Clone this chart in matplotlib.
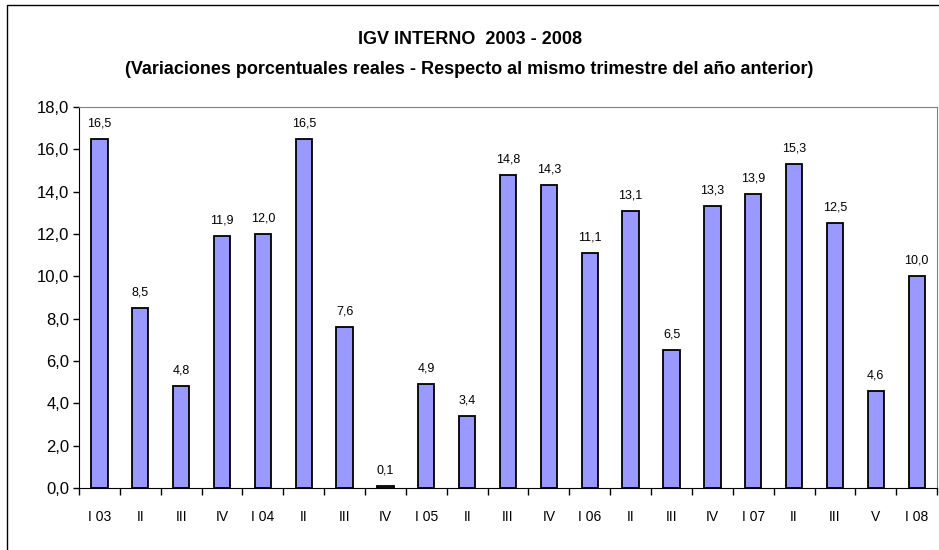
import matplotlib.pyplot as plt
from matplotlib.patches import Rectangle
import numpy as np

plt.rcParams["font.family"] = ["Liberation Sans", "DejaVu Sans"]

# datos: IGV interno, variación % real trimestral
TRIMESTRES = ["I 03", "II", "III", "IV", "I 04", "II", "III", "IV", "I 05", "II", "III",
              "IV", "I 06", "II", "III", "IV", "I 07", "II", "III", "V", "I 08"]
VARIACION = [16.5, 8.5, 4.8, 11.9, 12.0, 16.5, 7.6, 0.1, 4.9, 3.4, 14.8,
             14.3, 11.1, 13.1, 6.5, 13.3, 13.9, 15.3, 12.5, 4.6, 10.0]
Y_TICKS = [0, 2, 4, 6, 8, 10, 12, 14, 16, 18]

fig = plt.figure(figsize=(9.39, 5.5), dpi=100)
ax = fig.add_axes([0.0841, 0.1127, 0.9139, 0.6928])

x = np.arange(len(TRIMESTRES))
ax.bar(x, VARIACION, width=0.4, color="#9999FF", edgecolor="black", linewidth=1.3, zorder=2)

for xi, v in zip(x, VARIACION):
    ax.text(xi, v + 0.45, f"{v:.1f}".replace(".", ","), ha="center", va="bottom", fontsize=9)

ax.set_xlim(-0.5, len(TRIMESTRES) - 0.5)
ax.set_ylim(0, 18)
ax.set_yticks(Y_TICKS)
ax.set_yticklabels([f"{t:.1f}".replace(".", ",") for t in Y_TICKS], fontsize=12)
ax.tick_params(axis="y", direction="out", length=4, width=1, pad=3)

# ticks entre categorías, etiquetas centradas
ax.set_xticks(np.arange(len(TRIMESTRES) + 1) - 0.5)
ax.set_xticklabels([])
ax.tick_params(axis="x", direction="out", length=5, width=1)
ax.set_xticks(x, minor=True)
ax.set_xticklabels(TRIMESTRES, minor=True, fontsize=10)
ax.tick_params(axis="x", which="minor", length=0, pad=16)

for side in ["top", "right"]:
    ax.spines[side].set_color("#808080")
for side in ["left", "bottom"]:
    ax.spines[side].set_color("black")

fig.text(0.5, 1 - 40 / 550, "IGV INTERNO  2003 - 2008", ha="center", va="center",
         fontsize=13, fontweight="bold")
fig.text(0.5, 1 - 70 / 550,
         "(Variaciones porcentuales reales - Respecto al mismo trimestre del año anterior)",
         ha="center", va="center", fontsize=13, fontweight="bold")

# marco del gráfico (recortado a la derecha y abajo)
fig.patches.append(Rectangle((7 / 939, -0.05), 1.1, 1 - 5 / 550 + 0.05,
                             transform=fig.transFigure, fill=False,
                             edgecolor="black", linewidth=1.0))

fig.savefig("out.png", dpi=100)
